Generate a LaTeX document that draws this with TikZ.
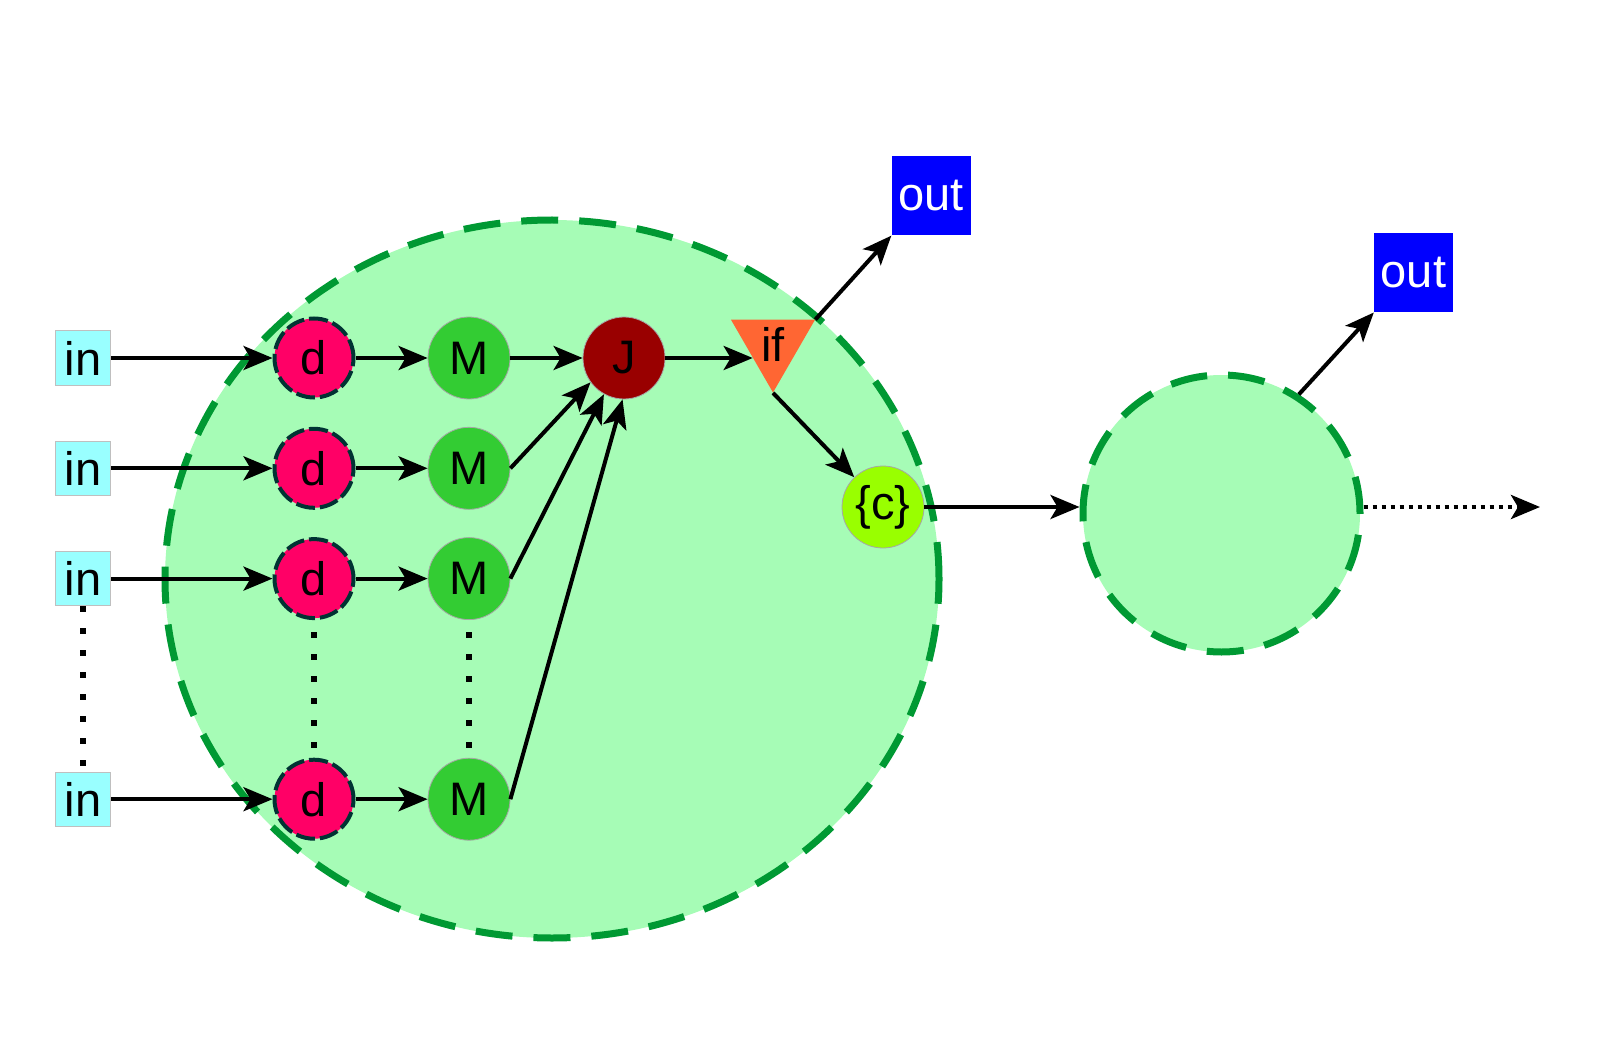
\documentclass[tikz,border=0pt]{standalone}
\usepackage{fontspec}
\setmainfont{Liberation Sans}
\usepackage{xcolor}
\usepackage{tikz}
\usetikzlibrary{positioning, arrows.meta, shapes.geometric}

\definecolor{blobfill}{HTML}{A6FCB6}
\definecolor{blobline}{HTML}{009933}
\definecolor{dfill}{HTML}{FF0066}
\definecolor{dline}{HTML}{003333}
\definecolor{mfill}{HTML}{33CC33}
\definecolor{jfill}{HTML}{990000}
\definecolor{iffill}{HTML}{FF6633}
\definecolor{cfill}{HTML}{99FF00}
\definecolor{infill}{HTML}{99FFFF}
\definecolor{outfill}{HTML}{0000FF}

\tikzset{
  lbl/.style={font=\fontsize{47}{50}\selectfont, inner sep=0pt},
  inbox/.style={lbl, rectangle, draw=black!25, line width=1pt, fill=infill, minimum width=55pt, minimum height=54pt},
  outbox/.style={lbl, rectangle, fill=outfill, text=white, minimum size=79pt},
  dnode/.style={lbl, circle, fill=dfill, draw=dline, line width=4pt, dash pattern=on 19pt off 5pt, minimum size=79pt},
  mnode/.style={lbl, circle, fill=mfill, draw=black!35, line width=0.8pt, minimum size=82pt},
  jnode/.style={mnode, fill=jfill},
  cnode/.style={mnode, fill=cfill},
  ifnode/.style={lbl, regular polygon, regular polygon sides=3, shape border rotate=180, fill=iffill, minimum size=97pt},
  blob/.style={draw=blobline, fill=blobfill, line width=7pt, dash pattern=on 37pt off 21pt},
  arr/.style={-{Stealth[length=29pt, width=24pt, inset=7pt]}, line width=4pt},
  dotline/.style={line width=5.5pt, dash pattern=on 5.5pt off 16.5pt},
}

\begin{document}
\begin{tikzpicture}[x=1pt, y=-1pt, on grid]
    \useasboundingbox (0,0) rectangle (1600,1048);

    % Containers
    \node (bigblob) [blob, ellipse, minimum width=774pt, minimum height=718pt] at (552,579) {};
    \node (smallblob) [blob, circle, minimum size=277pt] at (1221.5,513.5) {};

    % Inputs
    \node (in1) [inbox] at (83,358) {in};
    \node (in2) [inbox, below=110.3pt of in1] {in};
    \node (in3) [inbox, below=110.3pt of in2] {in};
    \node (in4) [inbox, below=220.6pt of in3] {in};

    % Lanes
    \node (d1) [dnode, right=231pt of in1] {d};
    \node (d2) [dnode, right=231pt of in2] {d};
    \node (d3) [dnode, right=231pt of in3] {d};
    \node (d4) [dnode, right=231pt of in4] {d};
    \node (M1) [mnode, right=155pt of d1] {M};
    \node (M2) [mnode, right=155pt of d2] {M};
    \node (M3) [mnode, right=155pt of d3] {M};
    \node (M4) [mnode, right=155pt of d4] {M};

    % Join and branch
    \node (J) [jnode, right=155pt of M1] {J};
    \node (ifn) [ifnode, above right=14pt and 149pt of J] {if};
    \node (c) [cnode, below right=149pt and 259pt of J] {\{c\}};
    \node (out1) [outbox, above right=148pt and 158pt of ifn] {out};
    \node (out2) [outbox, above right=240.7pt and 192pt of smallblob] {out};
    \coordinate (tail) at (1540,507);

    % Lane edges
    \draw[arr] (in1) -- (d1);
    \draw[arr] (in2) -- (d2);
    \draw[arr] (in3) -- (d3);
    \draw[arr] (in4) -- (d4);
    \draw[arr] (d1) -- (M1);
    \draw[arr] (d2) -- (M2);
    \draw[arr] (d3) -- (M3);
    \draw[arr] (d4) -- (M4);
    \draw[arr] (M1) -- (J);
    \draw[arr] (M2.east) -- (J.216);
    \draw[arr] (M3.east) -- (J.241);
    \draw[arr] (M4.east) -- (J.268);

    % Elided lanes
    \draw[dotline] (in3) -- (in4);
    \draw[dotline, shorten <=12pt, shorten >=10pt] (d3) -- (d4);
    \draw[dotline, shorten <=12pt, shorten >=10pt] (M3) -- (M4);

    % Branch edges
    \draw[arr] (J.east) -- (J.east -| ifn.214);
    \draw[arr] (ifn.corner 2) -- (out1.south west);
    \draw[arr] (ifn.corner 1) -- (c);
    \draw[arr] (c.east) -- (c.east -| smallblob.west);
    \draw[arr] (smallblob.57) -- (out2.south west);
    \draw[arr, line width=4.5pt, dash pattern=on 4.5pt off 4.5pt] (c.east -| smallblob.east) -- (tail);
\end{tikzpicture}
\end{document}
